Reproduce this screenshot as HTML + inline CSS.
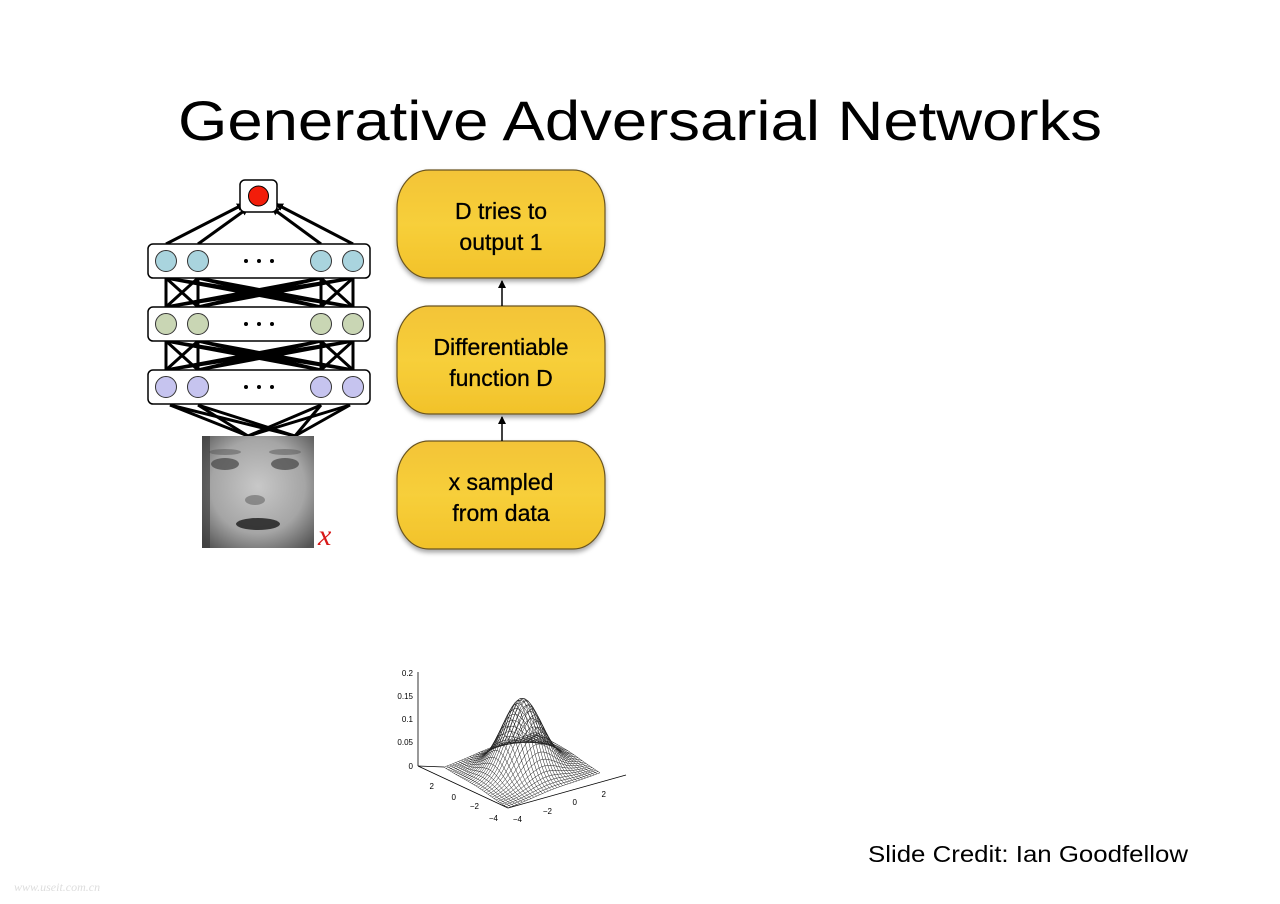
<!DOCTYPE html>
<html><head><meta charset="utf-8"><style>
html,body{margin:0;padding:0;background:#fff;width:1280px;height:904px;overflow:hidden}
svg{display:block}
</style></head><body>
<svg id="s" width="1280" height="904" viewBox="0 0 1280 904" xmlns="http://www.w3.org/2000/svg" font-family="Liberation Sans, sans-serif">
<defs>
<linearGradient id="yg" x1="0" y1="0" x2="0" y2="1">
<stop offset="0" stop-color="#f3c437"/><stop offset="0.5" stop-color="#f7cf3a"/><stop offset="1" stop-color="#f2c22a"/>
</linearGradient>
<radialGradient id="fg" cx="0.5" cy="0.45" r="0.7">
<stop offset="0" stop-color="#c8c8c8"/><stop offset="0.6" stop-color="#a5a5a5"/><stop offset="1" stop-color="#555"/>
</radialGradient>
<marker id="ah" markerWidth="8" markerHeight="8" refX="7" refY="4" orient="auto" markerUnits="userSpaceOnUse"><path d="M0,0 L8,4 L0,8 z" fill="#000"/></marker>
<filter id="sh" x="-10%" y="-10%" width="120%" height="130%"><feDropShadow dx="0" dy="3" stdDeviation="2.5" flood-color="#000" flood-opacity="0.35"/></filter>
</defs>

<text x="178" y="140" textLength="924" lengthAdjust="spacingAndGlyphs" font-size="56" fill="#000">Generative Adversarial Networks</text>

<!-- network -->
<g stroke="#000" stroke-width="3" fill="none" marker-end="url(#ah)">
<line x1="166" y1="244" x2="244" y2="204"/>
<line x1="198" y1="244" x2="248" y2="208"/>
<line x1="321" y1="244" x2="272" y2="208"/>
<line x1="353" y1="244" x2="276" y2="204"/>
</g>
<g id="conn" stroke="#000" stroke-width="3" fill="none"></g>
<g stroke="#000" stroke-width="3" fill="none">
<line x1="248" y1="436" x2="170" y2="405"/>
<line x1="248" y1="436" x2="198" y2="405"/>
<line x1="248" y1="436" x2="321" y2="405"/>
<line x1="248" y1="436" x2="350" y2="405"/>
<line x1="295" y1="436" x2="170" y2="405"/>
<line x1="295" y1="436" x2="198" y2="405"/>
<line x1="295" y1="436" x2="321" y2="405"/>
<line x1="295" y1="436" x2="350" y2="405"/>
</g>
<rect x="240" y="180" width="37" height="32" rx="5" fill="#fff" stroke="#000" stroke-width="1.5"/>
<circle cx="258.5" cy="196" r="10" fill="#f21d0a" stroke="#000" stroke-width="1"/>
<g id="layers"></g>

<!-- face -->
<rect x="202" y="436" width="112" height="112" fill="url(#fg)"/>
<ellipse cx="225" cy="464" rx="14" ry="6" fill="#444" opacity="0.7"/>
<ellipse cx="285" cy="464" rx="14" ry="6" fill="#444" opacity="0.7"/>
<ellipse cx="225" cy="452" rx="16" ry="3" fill="#555" opacity="0.5"/>
<ellipse cx="285" cy="452" rx="16" ry="3" fill="#555" opacity="0.5"/>
<ellipse cx="255" cy="500" rx="10" ry="5" fill="#666" opacity="0.6"/>
<ellipse cx="258" cy="524" rx="22" ry="6" fill="#222" opacity="0.85"/>
<rect x="202" y="436" width="8" height="112" fill="#333" opacity="0.6"/>
<text x="318" y="545" font-family="Liberation Serif, serif" font-style="italic" font-size="30" fill="#d81818">x</text>

<!-- yellow boxes -->
<g filter="url(#sh)" stroke="#6a5520" stroke-width="1.2" fill="url(#yg)">
<rect x="397" y="170" width="208" height="108" rx="32" ry="38"/>
<rect x="397" y="306" width="208" height="108" rx="32" ry="38"/>
<rect x="397" y="441" width="208" height="108" rx="32" ry="38"/>
</g>
<g stroke="#000" stroke-width="1.5" marker-end="url(#ah)">
<line x1="502" y1="306" x2="502" y2="281"/>
<line x1="502" y1="441" x2="502" y2="417"/>
</g>
<g font-size="23" text-anchor="middle" fill="#000" stroke="#000" stroke-width="0.3">
<text x="501" y="219">D tries to</text><text x="501" y="250">output 1</text>
<text x="501" y="355">Differentiable</text><text x="501" y="386">function D</text>
<text x="501" y="490">x sampled</text><text x="501" y="521">from data</text>
</g>

<!-- gaussian plot -->
<g stroke="#000" stroke-width="0.8" fill="none">
<line x1="418" y1="672" x2="418" y2="766"/>
<line x1="418" y1="766" x2="508" y2="808"/>
<line x1="508" y1="808" x2="626" y2="775"/>
<line x1="418" y1="766" x2="444" y2="767"/>
</g>
<g font-size="8" fill="#000" text-anchor="end">
<text x="413" y="676">0.2</text><text x="413" y="699">0.15</text><text x="413" y="722">0.1</text><text x="413" y="745">0.05</text><text x="413" y="769">0</text>
<text x="434" y="789">2</text><text x="456" y="800">0</text><text x="479" y="809">−2</text><text x="498" y="821">−4</text>
<text x="522" y="822">−4</text><text x="552" y="814">−2</text><text x="577" y="805">0</text><text x="606" y="797">2</text>
</g>
<g id="mesh" stroke="#222" stroke-width="0.5" fill="none"></g>

<text x="868" y="862" textLength="320" lengthAdjust="spacingAndGlyphs" font-size="23" fill="#000">Slide Credit: Ian Goodfellow</text>
<text x="14" y="891" font-size="12" fill="#ddd" font-family="Liberation Serif, serif" font-style="italic">www.useit.com.cn</text>
</svg>
<script>
var NS="http://www.w3.org/2000/svg";
function el(p,t,a){var e=document.createElementNS(NS,t);for(var k in a)e.setAttribute(k,a[k]);p.appendChild(e);return e;}
var xs=[166,198,321,353];
var conn=document.getElementById('conn');
[[278,307],[341,370]].forEach(function(r){
 xs.forEach(function(a){xs.forEach(function(b){
  el(conn,'line',{x1:a,y1:r[1],x2:b,y2:r[0]});
 });});
});
var L=document.getElementById('layers');
var cols=['#a9d4de','#c9d6b4','#c6c4ef'];
[244,307,370].forEach(function(y,i){
 el(L,'rect',{x:148,y:y,width:222,height:34,rx:5,fill:'#fff',stroke:'#000','stroke-width':1.5});
 xs.forEach(function(x){el(L,'circle',{cx:x,cy:y+17,r:10.5,fill:cols[i],stroke:'#333','stroke-width':1});});
 [246,259,272].forEach(function(x){el(L,'circle',{cx:x,cy:y+17,r:2,fill:'#000'});});
});
var M=document.getElementById('mesh');
function P(u,v){var z=0.155*Math.exp(-(u*u+v*v)/(2*1.45*1.45));
 return [(522+u*11.5-v*8).toFixed(1),(770-u*4.4-v*5.1-z*460).toFixed(1)];}
var N=32;
for(var i=0;i<=N;i++){var a=-4+8*i/N,p1=[],p2=[];
 for(var j=0;j<=N;j++){var b=-4+8*j/N;p1.push(P(a,b).join(','));p2.push(P(b,a).join(','));}
 el(M,'polyline',{points:p1.join(' ')});el(M,'polyline',{points:p2.join(' ')});}
</script>
</body></html>
